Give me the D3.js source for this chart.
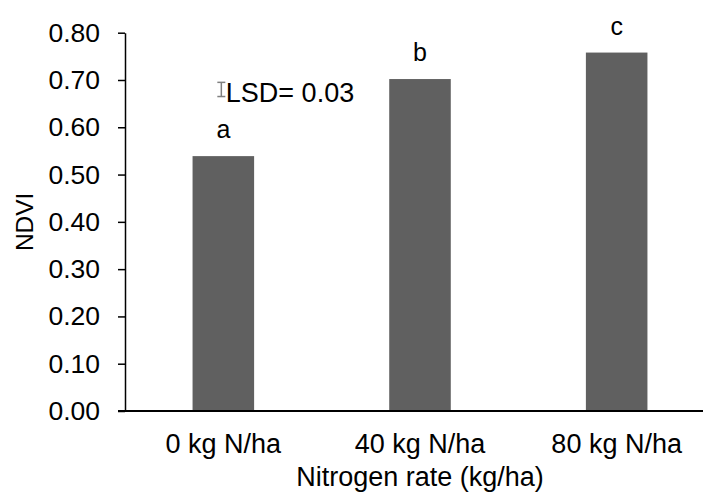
<!DOCTYPE html>
<html>
<head>
<meta charset="utf-8">
<script src="https://cdn.jsdelivr.net/npm/d3@7"></script>
<style>
  body { margin: 0; background: #fff; }
  text { font-family: Arial, "Liberation Sans", sans-serif; fill: #000; }
</style>
</head>
<body>
<div id="container"></div>
<script>
/* DATA */
const categories = ["0 kg N/ha", "40 kg N/ha", "80 kg N/ha"];
const ndvi = [0.539, 0.702, 0.758];
const letters = ["a", "b", "c"];
const yTicks = [0, 0.1, 0.2, 0.3, 0.4, 0.5, 0.6, 0.7, 0.8];
const lsd = 0.03;
const lsdCenter = 0.68;
const lsdLabel = "LSD= 0.03";
const xTitle = "Nitrogen rate (kg/ha)";
const yTitle = "NDVI";

/* CONSTANTS */
const width = 703,
  height = 498,
  plot = { left: 125, right: 715, top: 32.7, bottom: 411 };

const svg = d3.select("#container")
  .append("svg")
  .attr("width", width)
  .attr("height", height);

// scales
const xScale = d3.scaleBand()
  .domain(categories)
  .range([plot.left, plot.right])
  .paddingInner(0.687)
  .paddingOuter(0.3435);

const yScale = d3.scaleLinear()
  .domain([0, 0.8])
  .range([plot.bottom, plot.top]);

// bars
svg.append("g")
  .selectAll("rect")
  .data(ndvi)
  .join("rect")
  .attr("x", (d, i) => xScale(categories[i]))
  .attr("y", d => yScale(d))
  .attr("width", xScale.bandwidth())
  .attr("height", d => yScale(0) - yScale(d))
  .attr("fill", "#606060");

// significance letters
svg.append("g")
  .selectAll("text")
  .data(letters)
  .join("text")
  .attr("x", (d, i) => xScale(categories[i]) + xScale.bandwidth() / 2)
  .attr("y", (d, i) => yScale(ndvi[i]) - 18)
  .attr("text-anchor", "middle")
  .style("font-size", "25px")
  .text(d => d);

// y axis
const yAxis = d3.axisLeft(yScale)
  .tickValues(yTicks)
  .tickFormat(d3.format(".2f"))
  .tickSize(7)
  .tickSizeOuter(0)
  .tickPadding(18);

const yG = svg.append("g")
  .attr("transform", `translate(${plot.left},0)`)
  .call(yAxis);
yG.select(".domain").attr("stroke", "#000").attr("stroke-width", 1.5);
yG.selectAll(".tick line").attr("stroke", "#000").attr("stroke-width", 1.5);
yG.selectAll(".tick text")
  .attr("font-family", null)
  .style("font-size", "26.5px");

// x axis
const xAxis = d3.axisBottom(xScale).tickSize(0);
const xG = svg.append("g")
  .attr("transform", `translate(0,${plot.bottom})`)
  .call(xAxis);
xG.select(".domain").remove();
xG.selectAll(".tick text")
  .attr("font-family", null)
  .attr("dy", null)
  .attr("y", 41.7)
  .style("font-size", "27px");
xG.append("line")
  .attr("x1", plot.left - 7)
  .attr("x2", plot.right)
  .attr("stroke", "#000")
  .attr("stroke-width", 1.8);

// LSD bar
const lsdX = xScale(categories[0]) + xScale.bandwidth() / 2 - 2;
const lsdG = svg.append("g").attr("stroke", "#808080").attr("stroke-width", 1.5);
lsdG.append("line")
  .attr("x1", lsdX).attr("x2", lsdX)
  .attr("y1", yScale(lsdCenter + lsd / 2))
  .attr("y2", yScale(lsdCenter - lsd / 2));
[lsdCenter + lsd / 2, lsdCenter - lsd / 2].forEach(v => {
  lsdG.append("line")
    .attr("x1", lsdX - 4).attr("x2", lsdX + 4)
    .attr("y1", yScale(v)).attr("y2", yScale(v));
});
svg.append("text")
  .attr("x", lsdX + 4.5)
  .attr("y", yScale(lsdCenter - lsd / 2) + 5)
  .style("font-size", "27px")
  .text(lsdLabel);

// axis titles
svg.append("text")
  .attr("x", (plot.left + plot.right) / 2)
  .attr("y", 486)
  .attr("text-anchor", "middle")
  .style("font-size", "27px")
  .text(xTitle);

svg.append("text")
  .attr("transform", `translate(32.7,${(plot.top + plot.bottom) / 2}) rotate(-90)`)
  .attr("text-anchor", "middle")
  .style("font-size", "24.5px")
  .text(yTitle);
</script>
</body>
</html>
